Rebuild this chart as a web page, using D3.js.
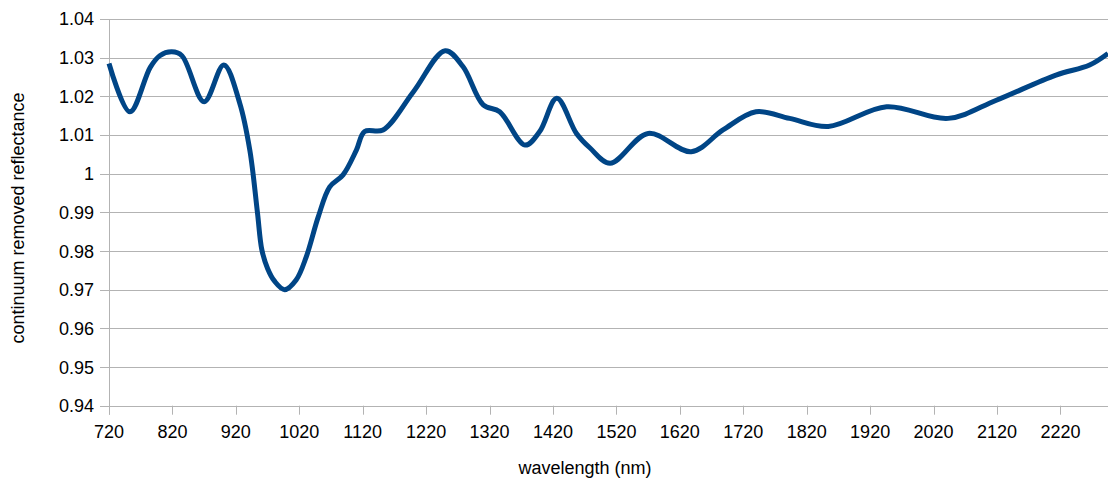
<!DOCTYPE html>
<html>
<head>
<meta charset="utf-8">
<script src="https://cdn.jsdelivr.net/npm/d3@7"></script>
<style>
  body { margin: 0; background: #fff; }
  text { font-family: "Liberation Sans", Arial, sans-serif; fill: #000; }
</style>
</head>
<body>
<div id="chart"></div>
<script>
// wavelength (nm) and continuum removed reflectance
const wavelength = [720, 753, 785, 800, 819, 835, 870, 901, 926, 942, 954, 961, 970, 981, 997, 1015, 1031, 1050, 1068, 1089, 1110,
  1123, 1152, 1200, 1250, 1278, 1310, 1336, 1376, 1399, 1426, 1457, 1478, 1510, 1570, 1638, 1688,
  1740, 1793, 1854, 1946, 2043, 2119, 2213, 2266, 2295];
const reflectance = [1.0285, 1.016, 1.0275, 1.0305, 1.0315, 1.0305, 1.0186, 1.0281, 1.0183, 1.0061, 0.990, 0.9803, 0.9755, 0.9722, 0.970, 0.9725, 0.9785, 0.9889, 0.9966, 0.9997, 1.0061,
  1.0109, 1.0113, 1.0212, 1.0318, 1.0277, 1.0178, 1.016, 1.0074, 1.0109, 1.0195, 1.0104, 1.0067, 1.0027, 1.0104, 1.0057, 1.0113,
  1.016, 1.0143, 1.0122, 1.0173, 1.0143, 1.019, 1.0255, 1.0281, 1.0311];
const xTicks = [720, 820, 920, 1020, 1120, 1220, 1320, 1420, 1520, 1620, 1720, 1820, 1920, 2020, 2120, 2220];
const yTicks = [0.94, 0.95, 0.96, 0.97, 0.98, 0.99, 1, 1.01, 1.02, 1.03, 1.04];

const W = 1108, H = 482;
const svg = d3.select("#chart").append("svg")
  .attr("width", W)
  .attr("height", H);

// plot area
const x = d3.scaleLinear().domain([720, 2295]).range([109, 1108]);
const y = d3.scaleLinear().domain([0.94, 1.04]).range([405.7, 19]);

const data = wavelength.map((w, i) => ({w, r: reflectance[i]}));

// horizontal grid
svg.append("g")
  .selectAll("line")
  .data(yTicks)
  .join("line")
  .attr("x1", x(720) - 9)
  .attr("x2", W)
  .attr("y1", d => Math.round(y(d)) + 0.5)
  .attr("y2", d => Math.round(y(d)) + 0.5)
  .attr("stroke", "#b3b3b3")
  .attr("stroke-width", 1);

// y axis line
svg.append("line")
  .attr("x1", Math.round(x(720)) + 0.5)
  .attr("x2", Math.round(x(720)) + 0.5)
  .attr("y1", y(1.04))
  .attr("y2", y(0.94) + 9)
  .attr("stroke", "#b3b3b3");

// x ticks
svg.append("g")
  .selectAll("line")
  .data(xTicks)
  .join("line")
  .attr("x1", d => Math.round(x(d)) + 0.5)
  .attr("x2", d => Math.round(x(d)) + 0.5)
  .attr("y1", y(0.94))
  .attr("y2", y(0.94) + 9)
  .attr("stroke", "#b3b3b3");

// y tick labels
svg.append("g")
  .selectAll("text")
  .data(yTicks)
  .join("text")
  .attr("x", 94)
  .attr("y", d => y(d))
  .attr("dy", "0.36em")
  .attr("text-anchor", "end")
  .style("font-size", "18px")
  .text(d => +d.toFixed(2));

// x tick labels
svg.append("g")
  .selectAll("text")
  .data(xTicks)
  .join("text")
  .attr("x", d => x(d))
  .attr("y", 432)
  .attr("dy", "0.36em")
  .attr("text-anchor", "middle")
  .style("font-size", "18px")
  .text(d => d);

// axis titles
svg.append("text")
  .attr("x", 585)
  .attr("y", 468)
  .attr("dy", "0.36em")
  .attr("text-anchor", "middle")
  .style("font-size", "18px")
  .text("wavelength (nm)");

svg.append("text")
  .attr("transform", "translate(18,218) rotate(-90)")
  .attr("dy", "0.36em")
  .attr("text-anchor", "middle")
  .style("font-size", "18px")
  .text("continuum removed reflectance");

// the spectrum
const line = d3.line()
  .x(d => x(d.w))
  .y(d => y(d.r))
  .curve(d3.curveCatmullRom.alpha(0.5));

svg.append("path")
  .datum(data)
  .attr("fill", "none")
  .attr("stroke", "#004586")
  .attr("stroke-width", 5)
  .attr("stroke-linejoin", "round")
  .attr("d", line);
</script>
</body>
</html>
